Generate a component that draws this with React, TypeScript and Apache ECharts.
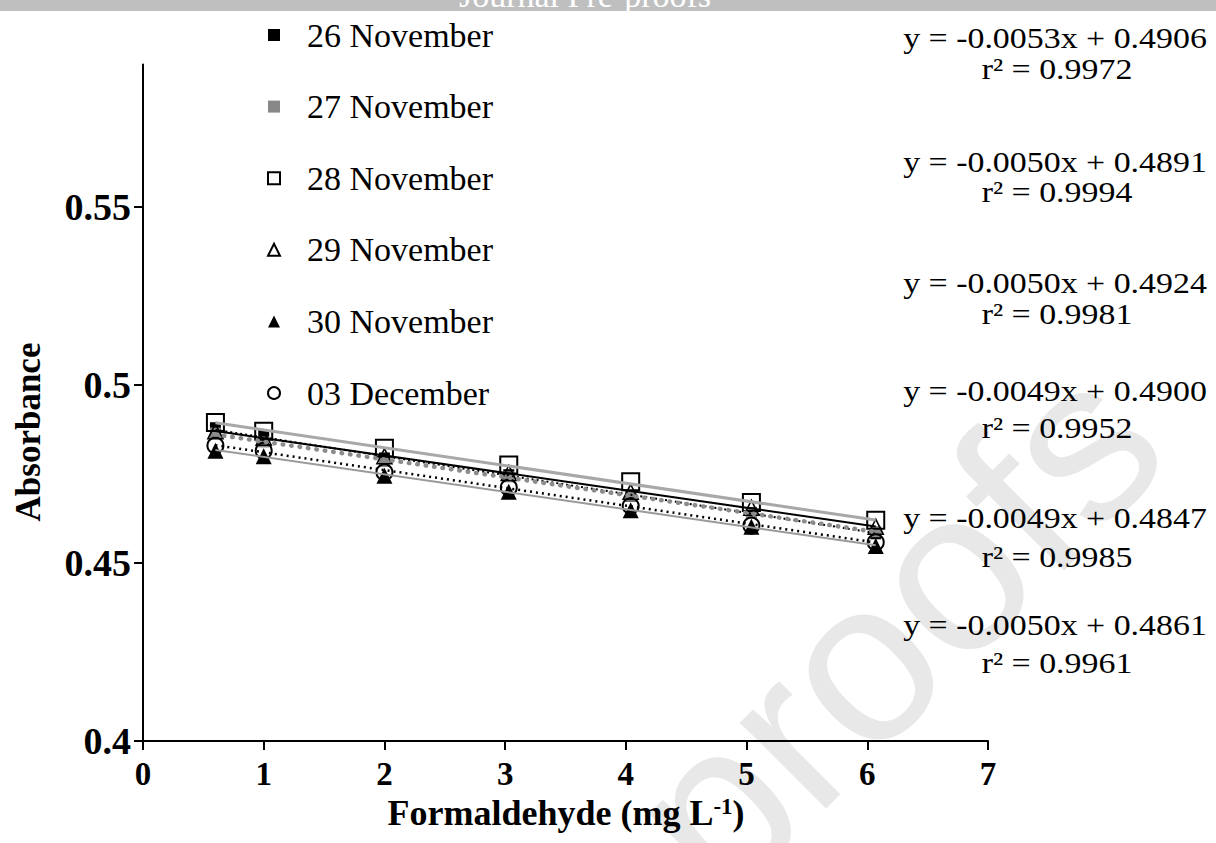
import React, { useEffect, useRef } from "react";
import * as echarts from "echarts";

// ---------------- data ----------------
const seriesNames = [
  "26 November",
  "27 November",
  "28 November",
  "29 November",
  "30 November",
  "03 December",
];
const formaldehyde = [0.6, 1, 2, 3.03, 4.04, 5.04, 6.07];
const abs26Nov = [0.488, 0.4858, 0.4795, 0.4748, 0.4688, 0.4642, 0.4582];
const abs27Nov = [0.4865, 0.484, 0.4785, 0.4742, 0.469, 0.464, 0.4588];
const abs28Nov = [0.4895, 0.487, 0.4822, 0.4775, 0.4728, 0.467, 0.462];
const abs29Nov = [0.487, 0.4852, 0.48, 0.4753, 0.47, 0.4655, 0.4602];
const abs30Nov = [0.4815, 0.48, 0.4745, 0.47, 0.4648, 0.4602, 0.4548];
const abs03Dec = [0.483, 0.4815, 0.4755, 0.4712, 0.466, 0.4605, 0.4558];
const absorbance = [abs26Nov, abs27Nov, abs28Nov, abs29Nov, abs30Nov, abs03Dec];

const slopes = [-0.0053, -0.005, -0.005, -0.0049, -0.0049, -0.005];
const intercepts = [0.4906, 0.4891, 0.4924, 0.49, 0.4847, 0.4861];
const r2Values = ["0.9972", "0.9994", "0.9981", "0.9952", "0.9985", "0.9961"];

const xTicks = [0, 1, 2, 3, 4, 5, 6, 7];
const yTicks = [0.4, 0.45, 0.5, 0.55];

// ---------------- styles ----------------
const SERIF = "Liberation Serif";
const markerStyles = [
  { symbol: "rect", size: 11, color: "#000", border: "#000", bw: 0 },
  { symbol: "rect", size: 11, color: "#888", border: "#888", bw: 0 },
  { symbol: "rect", size: 17, color: "transparent", border: "#000", bw: 2 },
  { symbol: "triangle", size: 15, color: "transparent", border: "#000", bw: 1.6 },
  { symbol: "triangle", size: 16, color: "#000", border: "#000", bw: 0 },
  { symbol: "circle", size: 16, color: "transparent", border: "#000", bw: 2 },
];
const trendStyles: any[] = [
  { color: "#000", width: 2, type: [2, 3], cap: "butt" },
  { color: "#8c8c8c", width: 4.5, type: [0.5, 8], cap: "round" },
  { color: "#a8a8a8", width: 3, type: "solid", cap: "butt" },
  { color: "#000", width: 2, type: "solid", cap: "butt" },
  { color: "#9a9a9a", width: 2, type: "solid", cap: "butt" },
  { color: "#000", width: 2.5, type: [2, 4], cap: "butt" },
];
// equation label centre positions (eq line y, r2 line y)
const eqLayout = [
  [38, 69],
  [162, 192],
  [283, 314],
  [391, 428],
  [518, 557],
  [625, 663],
];

export default function App() {
  const ref = useRef<HTMLDivElement>(null);
  useEffect(() => {
    if (!ref.current) return;
    const chart = echarts.init(ref.current, undefined, { renderer: "svg" });

    const scatterSeries = seriesNames.map((name, i) => ({
      name,
      type: "scatter",
      data: formaldehyde.map((x, j) => [x, absorbance[i][j]]),
      symbol: markerStyles[i].symbol,
      symbolSize: markerStyles[i].size,
      itemStyle: {
        color: markerStyles[i].color,
        borderColor: markerStyles[i].border,
        borderWidth: markerStyles[i].bw,
        opacity: 1,
      },
      z: 2,
      silent: true,
    }));

    const x0 = formaldehyde[0];
    const x1 = formaldehyde[formaldehyde.length - 1];
    const trendSeries = seriesNames.map((name, i) => ({
      name: name + " trend",
      type: "line",
      data: [
        [x0, intercepts[i] + slopes[i] * x0],
        [x1, intercepts[i] + slopes[i] * x1],
      ],
      symbol: "none",
      showSymbol: false,
      silent: true,
      z: 3,
      lineStyle: {
        color: trendStyles[i].color,
        width: trendStyles[i].width,
        type: trendStyles[i].type,
        cap: trendStyles[i].cap,
      },
    }));

    const eqGraphics: any[] = [];
    seriesNames.forEach((_, i) => {
      const eq = `y = ${slopes[i].toFixed(4)}x + ${intercepts[i].toFixed(4)}`;
      eqGraphics.push({
        type: "text",
        x: 1055,
        y: eqLayout[i][0],
        scaleX: 1.13,
        z: 10,
        style: {
          text: eq,
          fontFamily: SERIF,
          fontSize: 30,
          fill: "#000",
          textAlign: "center",
          textVerticalAlign: "middle",
        },
      });
      eqGraphics.push({
        type: "text",
        x: 1057,
        y: eqLayout[i][1],
        scaleX: 1.13,
        z: 10,
        style: {
          text: `r\u00B2 = ${r2Values[i]}`,
          fontFamily: SERIF,
          fontSize: 30,
          fill: "#000",
          textAlign: "center",
          textVerticalAlign: "middle",
        },
      });
    });

    chart.setOption({
      animation: false,
      backgroundColor: "#fff",
      grid: { left: 143, right: 228, top: 64.6, bottom: 102, containLabel: false },
      legend: {
        data: seriesNames,
        orient: "vertical",
        left: 262,
        top: 12,
        itemWidth: 12,
        itemHeight: 12,
        itemGap: 35.6,
        selectedMode: false,
        textStyle: {
          fontFamily: SERIF,
          fontSize: 34,
          color: "#000",
          lineHeight: 36,
          padding: [0, 0, 0, 22],
        },
        z: 5,
      },
      xAxis: {
        type: "value",
        min: 0,
        max: 7,
        interval: 1,
        axisLine: { show: true, onZero: false, lineStyle: { color: "#000", width: 2 } },
        axisTick: { show: true, length: 9, inside: false, lineStyle: { color: "#000", width: 2 } },
        splitLine: { show: false },
        axisLabel: {
          customValues: xTicks,
          fontFamily: SERIF,
          fontSize: 33,
          lineHeight: 27,
          fontWeight: "bold",
          color: "#000",
          margin: 19,
          formatter: (v: number) => String(v),
        },
      },
      yAxis: {
        type: "value",
        min: 0.4,
        max: 0.59,
        interval: 0.05,
        axisLine: { show: true, onZero: false, lineStyle: { color: "#000", width: 2 } },
        axisTick: {
          show: true,
          length: 9,
          customValues: yTicks,
          lineStyle: { color: "#000", width: 2 },
        },
        splitLine: { show: false },
        axisLabel: {
          customValues: yTicks,
          fontFamily: SERIF,
          fontSize: 38,
          fontWeight: "bold",
          color: "#000",
          margin: 12,
          formatter: (v: number) => String(v),
        },
      },
      graphic: [
        {
          type: "text",
          x: 1120,
          y: 402,
          rotation: Math.PI / 4,
          z: -10,
          silent: true,
          style: {
            text: "Journal Pre-proofs",
            fontFamily: "Liberation Sans",
            fontSize: 230,
            fill: "#e8e8e8",
            textAlign: "right",
            textVerticalAlign: "middle",
          },
        },
        {
          type: "rect",
          shape: { x: 0, y: 0, width: 1216, height: 11 },
          z: 20,
          silent: true,
          style: { fill: "#bfbfbf" },
        },
        {
          type: "text",
          x: 585,
          y: 12,
          z: 21,
          silent: true,
          style: {
            text: "Journal Pre-proofs",
            fontFamily: SERIF,
            fontSize: 34,
            fill: "#fff",
            textAlign: "center",
            textVerticalAlign: "bottom",
          },
        },
        {
          type: "text",
          x: 28,
          y: 432,
          rotation: Math.PI / 2,
          z: 10,
          style: {
            text: "Absorbance",
            fontFamily: SERIF,
            fontSize: 35,
            fontWeight: "bold",
            fill: "#000",
            textAlign: "center",
            textVerticalAlign: "middle",
          },
        },
        {
          type: "text",
          x: 566,
          y: 813,
          z: 10,
          style: {
            text: "{a|Formaldehyde (mg L}{b|-1}{a|)}",
            textAlign: "center",
            textVerticalAlign: "middle",
            rich: {
              a: { fontFamily: SERIF, fontSize: 36, fontWeight: "bold", fill: "#000", verticalAlign: "bottom" },
              b: { fontFamily: SERIF, fontSize: 23, fontWeight: "bold", fill: "#000", verticalAlign: "top" },
            },
          },
        },
        ...eqGraphics,
      ],
      series: [...scatterSeries, ...trendSeries],
    });

    return () => chart.dispose();
  }, []);

  return (
    <div
      ref={ref}
      style={{ position: "absolute", left: 0, top: 0, width: 1216, height: 843 }}
    />
  );
}
